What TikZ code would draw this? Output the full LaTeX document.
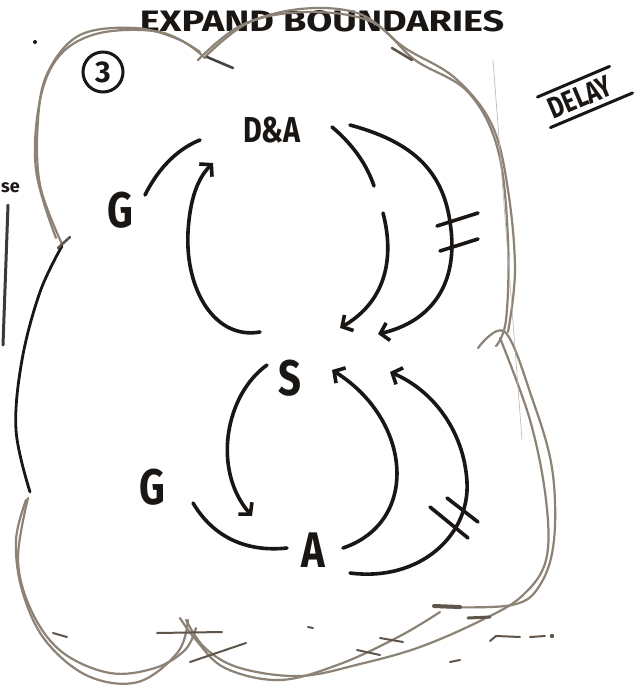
\documentclass[tikz,border=0pt]{standalone}
\usepackage{fontspec}
\newfontfamily\hand{Fira Sans}
\usetikzlibrary{arrows.meta}
\definecolor{ink}{RGB}{25,22,20}
\definecolor{pencil}{RGB}{140,130,118}
\definecolor{pencild}{RGB}{95,85,75}
\newcommand\hw[1]{\scalebox{0.8}[1]{#1}}
\begin{document}
\begin{tikzpicture}[x=1pt,y=-1pt,
  inkline/.style={draw=ink,line width=3.6pt,line cap=round},
  arr/.style={inkline,-{Straight Barb[length=8pt,width=18pt]}},
  blob/.style={draw=pencil,line width=2.2pt,line cap=round},
  blobd/.style={draw=pencild,line width=2.6pt,line cap=round},
  lbl/.style={font=\hand\bfseries\fontsize{50}{50}\selectfont,text=ink,inner sep=0pt},
  ttl/.style={font=\hand\bfseries\fontsize{36}{36}\selectfont,text=ink,inner sep=0pt}
]
\useasboundingbox (0,0) rectangle (635,694);
\fill[white] (0,0) rectangle (635,694);

% ---- texts ----
\node[ttl] (title) at (322,21) {\scalebox{1.05}[0.82]{EXPAND BOUNDARIES}};
\node[circle,draw=ink,line width=3pt,minimum size=40pt,inner sep=0pt,
      font=\hand\bfseries\fontsize{30}{30}\selectfont,text=ink] (three) at (103,72) {3};
\node[rotate=23,inner sep=6pt,font=\hand\bfseries\fontsize{30}{30}\selectfont,text=ink]
      (delay) at (580,97) {\scalebox{0.78}[1]{DELAY}};
\draw[inkline,line width=3pt] (delay.north west) -- (delay.north east);
\draw[inkline,line width=3pt] (delay.south west) -- ([shift={(10,-4)}]delay.south east);
\node[font=\hand\bfseries\fontsize{18}{18}\selectfont,text=ink,inner sep=0pt,anchor=west] (se) at (1,188) {se};

\node[lbl] (G1) at (120,210) {\hw{G}};
\node[lbl,font=\hand\bfseries\fontsize{36}{36}\selectfont] (DA) at (272,130) {\hw{D\&A}};
\node[lbl] (S) at (290,378) {\hw{S}};
\node[lbl] (G2) at (152,487) {\hw{G}};
\node[lbl] (A) at (313,550) {\hw{A}};

% ---- blob outline ----
\draw[blob] plot[smooth,tension=0.6] coordinates {(62,244) (40,185) (38,120) (48,72) (80,35) (135,28) (180,40) (205,58)};
\draw[blob] plot[smooth,tension=0.6] coordinates {(56,238) (36,170) (40,100) (60,55) (100,33) (160,32) (200,52)};
\draw[blob] plot[smooth,tension=0.6] coordinates {(198,60) (240,26) (300,9) (360,14) (405,48) (455,78) (492,125) (508,190) (515,270) (508,332)};
\draw[blob] plot[smooth,tension=0.6] coordinates {(206,56) (250,22) (310,12) (372,22) (415,60) (468,92) (498,150) (508,240) (506,320) (496,346)};
\draw[blobd] (392,48) -- (412,60);
\draw[blob] plot[smooth,tension=0.6] coordinates {(478,348) (505,332) (532,398) (552,468) (554,540) (540,585) (512,605) (440,607)};
\draw[blob] plot[smooth,tension=0.6] coordinates {(500,338) (530,420) (546,500) (546,560) (522,596) (482,620) (420,647) (360,664) (300,676) (240,668) (205,648) (186,620)};
\draw[blob] plot[smooth,tension=0.6] coordinates {(440,612) (400,636) (340,664) (280,680) (225,668) (196,640) (180,618)};
\draw[blob] plot[smooth,tension=0.6] coordinates {(196,628) (185,650) (155,668) (110,673) (62,652) (32,612) (18,560) (28,498)};
\draw[blob] plot[smooth,tension=0.6] coordinates {(188,620) (178,652) (138,682) (88,676) (45,640) (22,590) (16,540) (26,500)};
\draw[inkline,line width=2.8pt] plot[smooth,tension=0.6] coordinates {(30,492) (16,430) (22,360) (40,292) (62,246)};
\draw[blobd] (58,248) -- (70,237);
\draw[blobd,line width=4pt] (434,606) -- (460,607);
\draw[blobd,line width=3pt] (468,618) -- (490,617);

% ---- stray marks ----
\draw[draw=ink!85,line width=3pt,line cap=round] (8,205) -- (3,345);
\fill[ink] (35,42) circle (2pt);
\draw[pencil!60,line width=0.6pt] (493,60) -- (522,440);
\draw[inkline,line width=2.6pt,draw=ink!80] (207,57) -- (233,68);
\begin{scope}[draw=pencild,line width=2pt,line cap=round]
\draw (53,633) -- (67,637);
\draw (157,633) -- (222,632);
\draw (190,662) -- (246,643);
\draw (308,627) -- (313,628);
\draw (380,638) -- (403,642);
\draw (357,650) -- (380,655);
\draw (450,662) -- (460,660);
\draw (490,641) -- (496,636) -- (520,637);
\draw (530,637) -- (545,636);
\end{scope}
\fill[pencild] (552,636) circle (2.2pt);

% ---- top loop ----
\coordinate (g1e) at (145,195);
\coordinate (dal) at (200,140);
\draw[inkline] (g1e) .. controls (160,165) and (180,148) .. (dal);
\coordinate (sl) at (260,332);
\coordinate (dab) at (213,163);
\draw[arr] (sl) .. controls (215,340) and (185,290) .. (188,232) .. controls (190,198) and (198,178) .. (dab);
\coordinate (dar1) at (332,127);
\coordinate (gap1) at (374,186);
\coordinate (gap2) at (383,213);
\coordinate (st1) at (340,328);
\draw[inkline] (dar1) .. controls (350,142) and (366,162) .. (gap1);
\draw[arr] (gap2) .. controls (394,255) and (388,300) .. (st1);
\coordinate (dar2) at (350,125);
\coordinate (st2) at (378,334);
\draw[arr] (dar2) .. controls (405,140) and (442,165) .. (450,222) .. controls (460,285) and (430,322) .. (st2);
\draw[inkline] (437,226) -- (478,213);
\draw[inkline] (440,251) -- (478,239);

% ---- bottom loop ----
\coordinate (sb) at (267,365);
\coordinate (at1) at (252,516);
\draw[arr] (sb) .. controls (225,395) and (212,470) .. (at1);
\coordinate (g2e) at (193,503);
\coordinate (al) at (287,548);
\draw[inkline] (g2e) .. controls (215,540) and (250,552) .. (al);
\coordinate (ar1) at (343,548);
\coordinate (sr1) at (332,370);
\draw[arr] (ar1) .. controls (420,522) and (412,420) .. (sr1);
\coordinate (ar2) at (350,573);
\coordinate (sr2) at (390,372);
\draw[arr] (ar2) .. controls (420,582) and (470,535) .. (467,482) .. controls (464,430) and (432,390) .. (sr2);
\draw[inkline] (430,507) -- (468,538);
\draw[inkline] (447,498) -- (478,522);
\end{tikzpicture}
\end{document}
